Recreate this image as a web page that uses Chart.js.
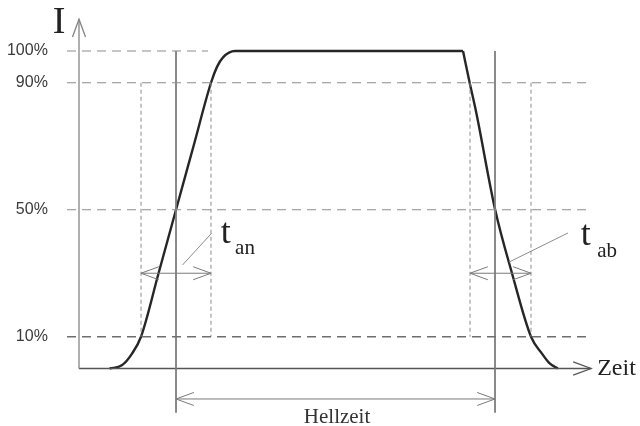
<!DOCTYPE html>
<html>
<head>
<meta charset="utf-8">
<script src="https://cdn.jsdelivr.net/npm/chart.js@4/dist/chart.umd.min.js"></script>
<style>
  html, body { margin: 0; padding: 0; background: #fff; }
  #wrap { width: 640px; height: 426px; position: relative; }
</style>
</head>
<body>
<div id="wrap"><canvas id="pulse"></canvas></div>
<script>
// intensity levels on the I axis (percent)
const levels = [100, 90, 50, 10];
const levelLabels = ["100%", "90%", "50%", "10%"];

// pulse shape, time in arbitrary units vs intensity in %
const riseTime = [6.0, 8.4, 10.4, 12.16, 15.6, 19.02, 22.45, 25.88, 27.06, 28.24, 30.6, 75.3];
const riseLevel = [0, 1, 4.7, 10, 30, 50, 70, 90, 95, 98, 100, 100];
const fallTime = [75.3, 76.6, 77.84, 81.6, 84.9, 88.63, 90.78, 92.35, 93.9];
const fallLevel = [100, 90, 81, 50, 30, 10, 4.7, 1.5, 0];

// crossing times: 10%, 50%, 90% on the rising edge, 90%, 50%, 10% on the falling edge
const riseMarks = [12.16, 19.02, 25.88];
const fallMarks = [76.67, 81.57, 88.63];

const timeEnd = 100.4;
const intensityEnd = 110;

function line(xs, ys, color, width, dash, extra) {
  const data = xs.map((x, i) => ({ x: x, y: ys[i] }));
  return Object.assign({
    data: data,
    showLine: true,
    borderColor: color,
    borderWidth: width,
    borderDash: dash || [],
    pointRadius: 0,
    fill: false,
  }, extra || {});
}

const datasets = [];

// dashed level lines
levels.forEach(lv => {
  const end = lv === 100 ? 25.3 : 100.5;
  const col = lv === 10 ? "#6e6e6e" : "#8c8c8c";
  datasets.push(line([-2.35, end], [lv, lv], col, lv === 10 ? 1.5 : 1.2, [9, 6]));
});

// fine dashed verticals at the 10% / 90% crossings
[riseMarks[0], riseMarks[2], fallMarks[0], fallMarks[2]].forEach(t => {
  datasets.push(line([t, t], [90, 10], "#8c8c8c", 1, [4, 3]));
});

// solid verticals through the 50% points
[riseMarks[1], fallMarks[1]].forEach(t => {
  datasets.push(line([t, t], [100, -13.9], "#7a7a7a", 1));
});

// rise / fall time arrows and the Hellzeit arrow
datasets.push(line([riseMarks[0], riseMarks[2]], [30, 30], "#7a7a7a", 1, [], { arrow: "both" }));
datasets.push(line([fallMarks[0], fallMarks[2]], [30, 30], "#7a7a7a", 1, [], { arrow: "both" }));
datasets.push(line([riseMarks[1], fallMarks[1]], [-9.6, -9.6], "#7a7a7a", 1, [], { arrow: "both" }));

// leader lines to the t labels
datasets.push(line([20.3, 26.0], [32.6, 42.6], "#8c8c8c", 1));
datasets.push(line([84.3, 95.9], [33.5, 42.7], "#8c8c8c", 1));

// axes
datasets.push(line([0, 0], [0, intensityEnd], "#858585", 1.3, [], { arrow: "end" }));
datasets.push(line([0, timeEnd], [0, 0], "#555555", 1.3, [], { arrow: "end" }));

// the pulse itself
datasets.push(line(riseTime, riseLevel, "#262626", 2.4, [], { cubicInterpolationMode: "monotone" }));
datasets.push(line(fallTime, fallLevel, "#262626", 2.4, [], { cubicInterpolationMode: "monotone" }));

const texts = [
  { text: "I", x: -3.9, y: 105.7, font: "38px 'Liberation Serif'", align: "center", color: "#222" },
  { text: "Zeit", x: 101.6, y: -2.0, font: "24px 'Liberation Serif'", align: "left", color: "#222" },
  { text: "t", x: 27.8, y: 39.5, font: "36px 'Liberation Serif'", align: "left", color: "#222" },
  { text: "an", x: 30.6, y: 36.0, font: "21px 'Liberation Serif'", align: "left", color: "#222" },
  { text: "t", x: 98.4, y: 38.9, font: "36px 'Liberation Serif'", align: "left", color: "#222" },
  { text: "ab", x: 101.6, y: 35.1, font: "21px 'Liberation Serif'", align: "left", color: "#222" },
  { text: "Hellzeit", x: 50.6, y: -17.2, font: "21px 'Liberation Serif'", align: "center", color: "#333" },
];

const arrowPlugin = {
  id: "arrows",
  afterDatasetsDraw(chart) {
    const ctx = chart.ctx;
    chart.data.datasets.forEach((ds, i) => {
      if (!ds.arrow) return;
      const pts = chart.getDatasetMeta(i).data;
      const a = pts[0], b = pts[pts.length - 1];
      const head = (tip, from) => {
        const ang = Math.atan2(tip.y - from.y, tip.x - from.x);
        const len = 19, spread = 0.35;
        ctx.beginPath();
        ctx.moveTo(tip.x - len * Math.cos(ang - spread), tip.y - len * Math.sin(ang - spread));
        ctx.lineTo(tip.x, tip.y);
        ctx.lineTo(tip.x - len * Math.cos(ang + spread), tip.y - len * Math.sin(ang + spread));
        ctx.stroke();
      };
      ctx.save();
      ctx.strokeStyle = ds.borderColor;
      ctx.lineWidth = ds.borderWidth;
      ctx.setLineDash([]);
      head(b, a);
      if (ds.arrow === "both") head(a, b);
      ctx.restore();
    });
  }
};

const textPlugin = {
  id: "texts",
  afterDraw(chart) {
    const ctx = chart.ctx;
    const xs = chart.scales.x, ys = chart.scales.y;
    ctx.save();
    // level tick labels
    ctx.font = "16px 'Liberation Sans'";
    ctx.fillStyle = "#3a3a3a";
    ctx.textAlign = "right";
    ctx.textBaseline = "middle";
    levels.forEach((lv, i) => {
      ctx.fillText(levelLabels[i], xs.getPixelForValue(-6.1), ys.getPixelForValue(lv));
    });
    ctx.textBaseline = "alphabetic";
    texts.forEach(t => {
      ctx.font = t.font;
      ctx.fillStyle = t.color;
      ctx.textAlign = t.align;
      ctx.fillText(t.text, xs.getPixelForValue(t.x), ys.getPixelForValue(t.y));
    });
    ctx.restore();
  }
};

new Chart(document.getElementById("pulse").getContext("2d"), {
  type: "scatter",
  data: { datasets: datasets },
  options: {
    responsive: true,
    maintainAspectRatio: false,
    animation: false,
    events: [],
    layout: { padding: 0 },
    plugins: { legend: { display: false }, tooltip: { enabled: false } },
    scales: {
      x: { type: "linear", min: -15.49, max: 110.0, display: false },
      y: { type: "linear", min: -18.11, max: 116.06, display: false },
    },
  },
  plugins: [arrowPlugin, textPlugin],
});
</script>
</body>
</html>
